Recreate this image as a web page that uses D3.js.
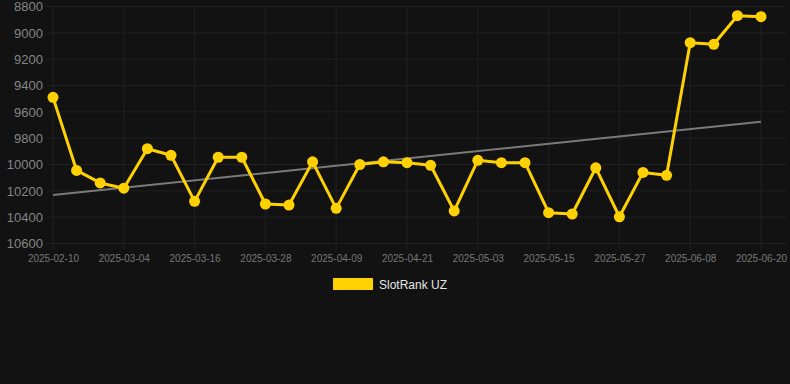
<!DOCTYPE html>
<html>
<head>
<meta charset="utf-8">
<script src="https://cdn.jsdelivr.net/npm/d3@7/dist/d3.min.js"></script>
<style>
  html, body { margin: 0; padding: 0; background: #121212; }
  svg { display: block; font-family: "Liberation Sans", Arial, sans-serif; }
</style>
</head>
<body>
<svg id="chart" width="790" height="384"></svg>
<script>
'use strict';
// Categories (one per sample), only every third one gets a label
var dates = [
    '2025-02-10', '2025-02-22', '2025-02-28', '2025-03-04', '2025-03-08', '2025-03-12',
    '2025-03-16', '2025-03-20', '2025-03-24', '2025-03-28', '2025-04-01', '2025-04-05',
    '2025-04-09', '2025-04-13', '2025-04-17', '2025-04-21', '2025-04-25', '2025-04-29',
    '2025-05-03', '2025-05-07', '2025-05-11', '2025-05-15', '2025-05-19', '2025-05-23',
    '2025-05-27', '2025-05-31', '2025-06-04', '2025-06-08', '2025-06-12', '2025-06-16',
    '2025-06-20'
];
// Rank values
var ranks = [
    9490, 10045, 10140, 10180, 9880, 9930,
    10280, 9945, 9945, 10300, 10308, 9980,
    10333, 10000, 9980, 9986, 10006, 10353,
    9968, 9986, 9986, 10366, 10376, 10025,
    10397, 10060, 10082, 9075, 9087, 8870,
    8877
];
// Trend line, start and end value
var trend = [10232, 9675];
var yTicks = [8800, 9000, 9200, 9400, 9600, 9800, 10000, 10200, 10400, 10600];
var seriesName = 'SlotRank UZ';

var svg = d3.select('#chart');
var plot = { left: 53, right: 761, top: 6.5, bottom: 243.5 };

var x = d3.scalePoint().domain(dates).range([plot.left, plot.right]);
var y = d3.scaleLinear().domain([8800, 10600]).range([plot.top, plot.bottom]);

var labelled = dates.filter(function(d, i) { return i % 3 === 0; });

// Grid
var grid = svg.append('g').attr('class', 'grid');
grid.selectAll('line.h').data(yTicks).enter().append('line')
    .attr('class', 'h')
    .attr('x1', plot.left - 6).attr('x2', 785)
    .attr('y1', function(d) { return y(d); }).attr('y2', function(d) { return y(d); })
    .style('stroke', '#202020').style('stroke-width', 1);
grid.selectAll('line.v').data(labelled).enter().append('line')
    .attr('class', 'v')
    .attr('x1', function(d) { return x(d); }).attr('x2', function(d) { return x(d); })
    .attr('y1', plot.top).attr('y2', plot.bottom + 6)
    .style('stroke', '#202020').style('stroke-width', 1);

// Y axis labels
var yAxis = svg.append('g')
    .attr('transform', 'translate(' + (plot.left - 10) + ',0)')
    .call(d3.axisLeft(y).tickValues(yTicks).tickSize(0).tickPadding(0).tickFormat(d3.format('d')));
yAxis.select('.domain').remove();
yAxis.selectAll('text').style('fill', '#858585').style('font-size', '13px');

// X axis labels
var xAxis = svg.append('g')
    .attr('transform', 'translate(0,' + (plot.bottom + 6) + ')')
    .call(d3.axisBottom(x).tickValues(labelled).tickSize(0).tickPadding(5));
xAxis.select('.domain').remove();
xAxis.selectAll('text').style('fill', '#777').style('font-size', '10px');

// Trend line
svg.append('line')
    .attr('x1', x(dates[0])).attr('y1', y(trend[0]))
    .attr('x2', x(dates[dates.length - 1])).attr('y2', y(trend[1]))
    .style('stroke', '#7a7a7a').style('stroke-width', 2);

// Series line
var line = d3.line()
    .x(function(d, i) { return x(dates[i]); })
    .y(function(d) { return y(d); });
svg.append('path')
    .datum(ranks)
    .attr('d', line)
    .style('fill', 'none')
    .style('stroke', '#ffd100')
    .style('stroke-width', 3)
    .style('stroke-linejoin', 'round');

svg.selectAll('circle.pt').data(ranks).enter().append('circle')
    .attr('class', 'pt')
    .attr('cx', function(d, i) { return x(dates[i]); })
    .attr('cy', function(d) { return y(d); })
    .attr('r', 5.5)
    .style('fill', '#ffd100');

// Legend
var legend = svg.append('g').attr('transform', 'translate(333,278)');
legend.append('rect').attr('width', 40).attr('height', 12).style('fill', '#ffd100');
legend.append('text')
    .attr('x', 46).attr('y', 10.5)
    .text(seriesName)
    .style('fill', '#e6e6e6').style('font-size', '12px');
</script>
</body>
</html>
